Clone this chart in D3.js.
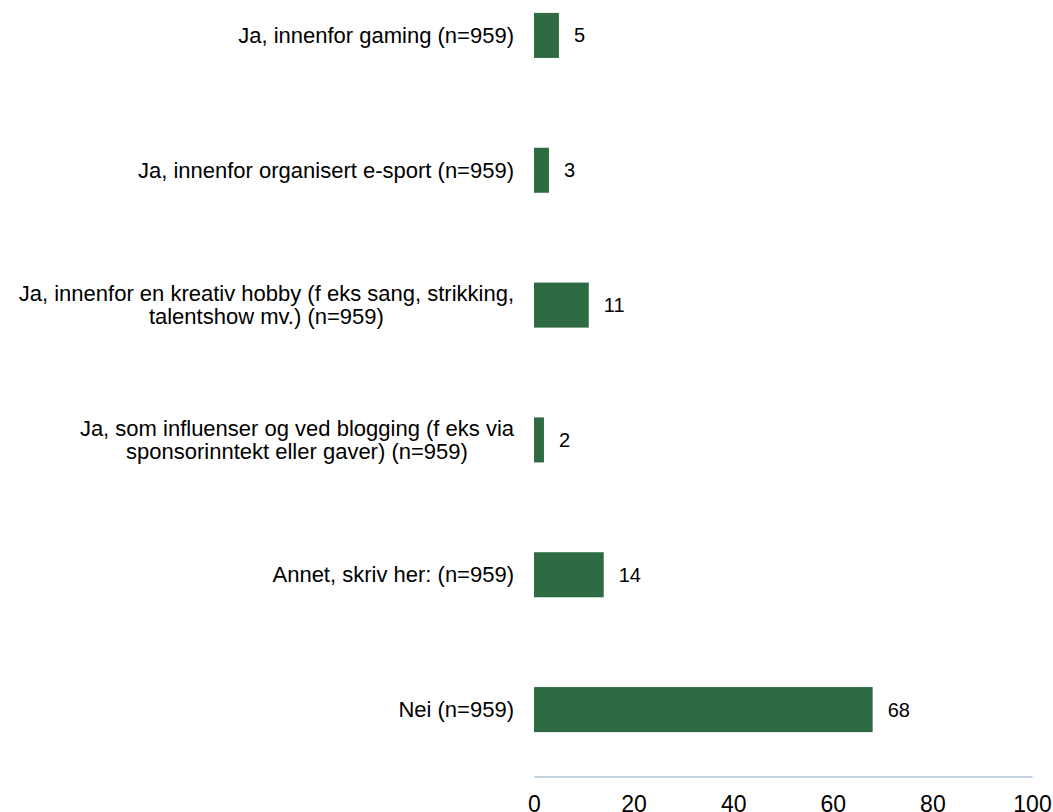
<!DOCTYPE html>
<html>
<head>
<meta charset="utf-8">
<script src="https://cdn.jsdelivr.net/npm/d3@7"></script>
<style>
  html, body { margin: 0; padding: 0; background: #fff; }
  svg { display: block; }
  text { font-family: "Liberation Sans", Arial, sans-serif; fill: #000; }
</style>
</head>
<body>
<svg id="chart" width="1053" height="812"></svg>
<script>
const categories = [
  ["Ja, innenfor gaming (n=959)"],
  ["Ja, innenfor organisert e-sport (n=959)"],
  ["Ja, innenfor en kreativ hobby (f eks sang, strikking,", "talentshow mv.) (n=959)"],
  ["Ja, som influenser og ved blogging (f eks via", "sponsorinntekt eller gaver) (n=959)"],
  ["Annet, skriv her: (n=959)"],
  ["Nei (n=959)"]
];
const values = [5, 3, 11, 2, 14, 68];
const tickValues = [0, 20, 40, 60, 80, 100];

const svg = d3.select("#chart");
const keys = categories.map((c, i) => i);

const x = d3.scaleLinear().domain([0, 100]).range([534, 1032]);
const y = d3.scaleBand().domain(keys).range([-32, 777]).paddingInner(0.666).paddingOuter(0.333);

// bars
svg.append("g").selectAll("rect").data(values).join("rect")
  .attr("x", x(0))
  .attr("y", (d, i) => y(i))
  .attr("width", d => x(d) - x(0))
  .attr("height", y.bandwidth())
  .attr("fill", "#2e6b43");

// value labels
svg.append("g").selectAll("text").data(values).join("text")
  .attr("x", d => x(d) + 15)
  .attr("y", (d, i) => y(i) + y.bandwidth() / 2)
  .attr("dy", "0.35em")
  .attr("font-size", 20)
  .text(d => d);

// category labels
const labelRight = 514;
const lineH = 23;
const lg = svg.append("g");
categories.forEach((lines, i) => {
  const cy = y(i) + y.bandwidth() / 2;
  const t = lg.append("text").attr("font-size", 22);
  if (lines.length === 1) {
    t.attr("x", labelRight).attr("y", cy).attr("dy", "0.35em")
      .attr("text-anchor", "end").text(lines[0]);
  } else {
    const spans = lines.map((l, j) => t.append("tspan")
      .attr("x", 0).attr("y", cy + (j - (lines.length - 1) / 2) * lineH)
      .attr("dy", "0.35em").text(l));
    const maxW = d3.max(spans, s => s.node().getComputedTextLength());
    const cx = labelRight - maxW / 2;
    t.attr("text-anchor", "middle");
    spans.forEach(s => s.attr("x", cx));
  }
});

// x axis
const axis = d3.axisBottom(x).tickValues(tickValues).tickSize(0).tickPadding(0).tickFormat(d3.format("d"));
const ag = svg.append("g").attr("transform", "translate(0,776.5)").call(axis);
ag.select(".domain").attr("stroke", "#c5d3e3").attr("stroke-width", 2);
ag.selectAll(".tick text")
  .attr("font-family", "Liberation Sans, Arial, sans-serif")
  .attr("font-size", 23)
  .attr("fill", "#000")
  .attr("dy", 0)
  .attr("y", 35);
</script>
</body>
</html>
